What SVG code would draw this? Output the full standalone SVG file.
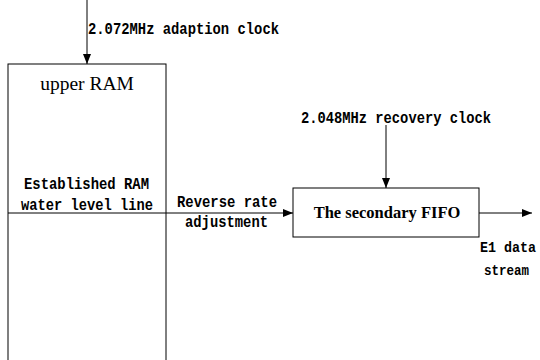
<svg xmlns="http://www.w3.org/2000/svg" width="540" height="360" viewBox="0 0 540 360">
<style>
.box{fill:#fff;stroke:#000;stroke-width:1}
.ln{stroke:#000;stroke-width:1;fill:none}
.mono{font-family:"Liberation Mono","DejaVu Sans Mono",monospace;font-weight:bold;font-size:16.5px;fill:#000}
.small{font-size:14px}
.serif{font-family:"Liberation Serif","Times New Roman",serif;fill:#000}
</style>
<defs>
<marker id="ah" viewBox="0 0 10 10" refX="10" refY="5" markerWidth="10" markerHeight="10" markerUnits="userSpaceOnUse" orient="auto">
<path d="M0,1 L10,5 L0,9 Z" fill="#000"/>
</marker>
</defs>
<rect width="540" height="360" fill="#fff"/>
<g id="upper-ram">
<rect class="box" x="8" y="64" width="158" height="310"/>
<text class="serif" x="87" y="90" font-size="19.5" text-anchor="middle">upper RAM</text>
<text class="mono" x="24" y="189" textLength="125" lengthAdjust="spacingAndGlyphs">Established RAM</text>
<text class="mono" x="21" y="210" textLength="132" lengthAdjust="spacingAndGlyphs">water level line</text>
</g>
<g id="secondary-fifo">
<rect class="box" x="293" y="188" width="186" height="49"/>
<text class="serif" x="387" y="218" font-size="16.5" font-weight="bold" text-anchor="middle">The secondary FIFO</text>
</g>
<g id="connectors">
<line class="ln" x1="87" y1="0" x2="87" y2="64" marker-end="url(#ah)"/>
<line class="ln" x1="8" y1="213" x2="293" y2="213" marker-end="url(#ah)"/>
<line class="ln" x1="386" y1="125" x2="386" y2="188" marker-end="url(#ah)"/>
<line class="ln" x1="479" y1="213" x2="532" y2="213" marker-end="url(#ah)"/>
</g>
<g id="labels">
<text class="mono" x="88" y="34" textLength="191" lengthAdjust="spacingAndGlyphs">2.072MHz adaption clock</text>
<text class="mono" x="301" y="123" textLength="190" lengthAdjust="spacingAndGlyphs">2.048MHz recovery clock</text>
<text class="mono" x="177" y="207" textLength="100" lengthAdjust="spacingAndGlyphs">Reverse rate</text>
<text class="mono" x="185" y="227" textLength="83" lengthAdjust="spacingAndGlyphs">adjustment</text>
<text class="mono small" x="480" y="252" textLength="56" lengthAdjust="spacingAndGlyphs">E1 data</text>
<text class="mono small" x="484" y="275" textLength="45" lengthAdjust="spacingAndGlyphs">stream</text>
</g>
</svg>
